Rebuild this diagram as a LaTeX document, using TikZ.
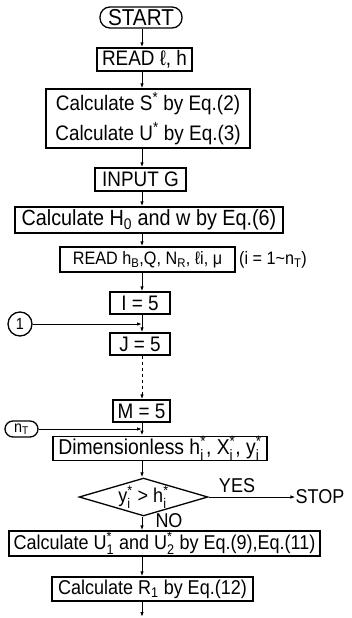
\documentclass[tikz,border=0pt]{standalone}
\usepackage{amsmath}
\usepackage{fontspec}
\setmainfont{Liberation Sans}[FakeStretch=0.9]
\usetikzlibrary{arrows.meta,shapes.geometric}
\newcommand{\supsub}[2]{$^{\text{#1}}_{\text{#2}}$}
\newcommand{\fsz}[1]{\fontsize{#1}{#1}\selectfont}
\begin{document}
\begin{tikzpicture}[x=1pt,y=-1pt,
  font=\fsz{20},
  box/.style={draw, rectangle, inner sep=0pt, line width=1.3pt},
  arr/.style={-{Latex[length=5pt,width=3.5pt]}, line width=1pt},
  lbl/.style={inner sep=0pt}]
\useasboundingbox (0,0) rectangle (352,618);
\coordinate (ax) at (142,0);
\node[box, rounded corners=10pt, minimum width=82pt, minimum height=21pt, font=\fsz{23}] (start) at (141,17.5) {START};
\node[box, minimum width=95pt, minimum height=23pt, font=\fsz{21}] (read1) at (144.5,59.5) {READ ℓ, h};
\node[box, minimum width=204pt, minimum height=59pt, align=center, font=\fsz{21}] (calc1) at (148,118.5)
  {Calculate S\textsuperscript{*} by Eq.(2)\\[7pt]Calculate U\textsuperscript{*} by Eq.(3)};
\node[box, minimum width=91pt, minimum height=23pt, font=\fsz{21}] (input) at (140.5,179.5) {INPUT G};
\node[box, minimum width=268pt, minimum height=26pt, font=\fsz{22}] (calcH) at (149,220) {Calculate H\textsubscript{0} and w by Eq.(6)};
\node[box, minimum width=175pt, minimum height=25pt, font=\fsz{18}] (readB) at (147.5,259.5)
  {READ h\textsubscript{B},Q, N\textsubscript{R}, ℓi, μ};
\node[lbl, font=\fsz{18}] (range) at (273,260) {(i = 1\textasciitilde n\textsubscript{T})};
\node[box, minimum width=60pt, minimum height=22pt, font=\fsz{21}] (I5) at (140,303) {I = 5};
\node[draw, circle, line width=1.3pt, minimum size=24pt, inner sep=0pt, font=\fsz{16}] (c1) at (20,324) {1};
\node[box, minimum width=60pt, minimum height=22pt, font=\fsz{21}] (J5) at (140,344) {J = 5};
\node[box, minimum width=57pt, minimum height=22pt, font=\fsz{21}] (M5) at (141.5,411) {M = 5};
\node[box, rounded corners=8pt, minimum width=33pt, minimum height=16pt, font=\fsz{16}] (nT) at (21.5,429) {n\textsubscript{T}};
\node[box, minimum width=214pt, minimum height=23pt, font=\fsz{21.5}] (dim) at (160,448.5)
  {Dimensionless h\supsub{*}{i}, X\supsub{*}{i}, y\supsub{*}{i}};
\node[draw, diamond, line width=1.3pt, minimum width=127pt, minimum height=37pt, aspect=3.4, inner sep=0pt] (dec) at (143.5,497)
  {y\supsub{*}{i} > h\supsub{*}{i}};
\node[lbl] (stop) at (320,497) {STOP};
\node[lbl] (yes) at (237,486) {YES};
\node[lbl] (no) at (169,521) {NO};
\node[box, minimum width=311pt, minimum height=25pt] (calcU) at (164.5,543.5)
  {Calculate U\supsub{*}{1} and U\supsub{*}{2} by Eq.(9),Eq.(11)};
\node[box, minimum width=201pt, minimum height=24pt] (calcR) at (152.5,589) {Calculate R\textsubscript{1} by Eq.(12)};
\coordinate (endpt) at (142,617);
% connectors
\draw[arr] (start.south -| ax) -- (read1.north -| ax);
\draw[arr] (read1.south -| ax) -- (calc1.north -| ax);
\draw[arr] (calc1.south -| ax) -- (input.north -| ax);
\draw[arr] (input.south -| ax) -- (calcH.north -| ax);
\draw[arr] (calcH.south -| ax) -- (readB.north -| ax);
\draw[arr] (readB.south -| ax) -- (I5.north -| ax);
\draw[arr] (I5.south -| ax) -- (J5.north -| ax);
\draw[arr] (c1.east) -- (c1.east -| ax);
\draw[arr, dashed] (J5.south -| ax) -- (M5.north -| ax);
\draw[arr] (M5.south -| ax) -- (dim.north -| ax);
\draw[arr] (nT.east) -- (nT.east -| ax);
\draw[arr] (dim.south -| ax) -- (dec.north -| ax);
\draw[arr] (dec.east) -- (stop.west);
\draw[arr] (dec.south -| ax) -- (calcU.north -| ax);
\draw[arr] (calcU.south -| ax) -- (calcR.north -| ax);
\draw[arr] (calcR.south -| ax) -- (endpt);
\end{tikzpicture}
\end{document}
